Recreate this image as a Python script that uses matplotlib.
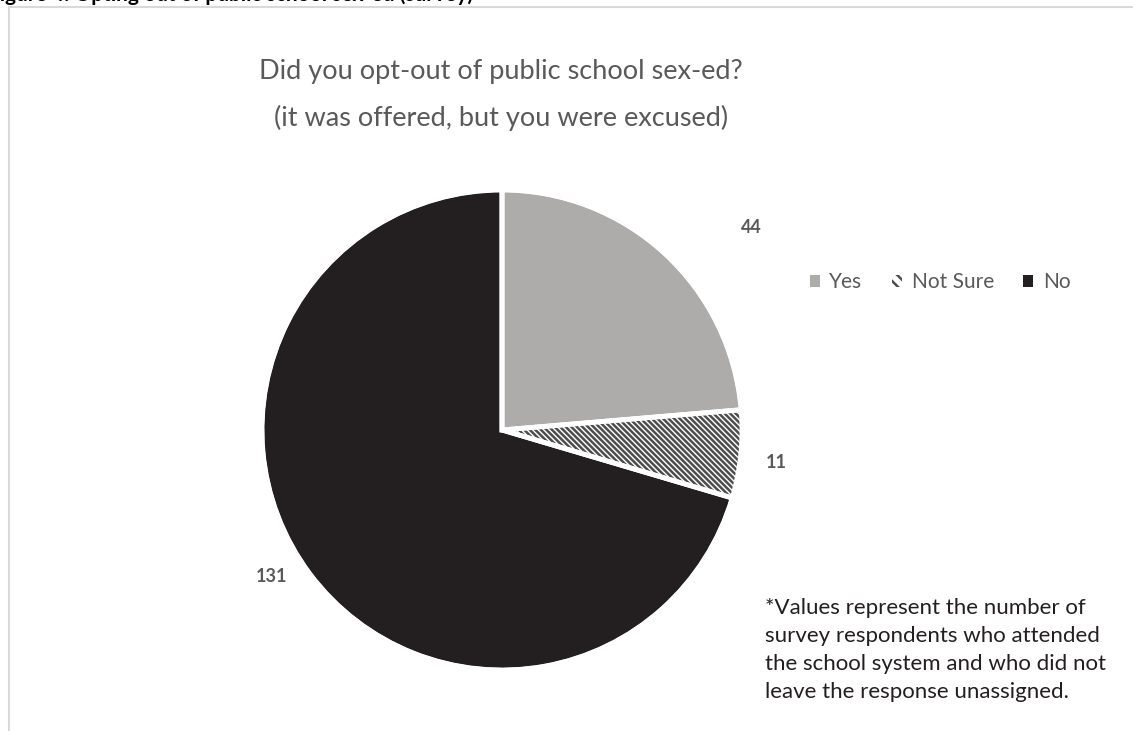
import matplotlib
matplotlib.use("Agg")
import matplotlib.pyplot as plt
from matplotlib.patches import Rectangle, Patch

categories = ["Yes", "Not Sure", "No"]
counts = [44, 11, 131]

title_lines = ["Did you opt-out of public school sex-ed?",
               "(it was offered, but you were excused)"]
note = ("*Values represent the number of\n"
        "survey respondents who attended\n"
        "the school system and who did not\n"
        "leave the response unassigned.")
caption = "Figure 4: Opting out of public school sex-ed (survey)"

W, H = 1133, 731
plt.rcParams["font.family"] = ["Lato", "DejaVu Sans"]
plt.rcParams["hatch.linewidth"] = 1.8
plt.rcParams["hatch.color"] = "#4d4d4d"

fig = plt.figure(figsize=(W / 100, H / 100), dpi=100)
fig.patch.set_facecolor("white")

def fx(px):
    return px / W

def fy(py):
    return 1 - py / H

# chart frame
fig.add_artist(Rectangle((fx(8.5), fy(H + 20)), fx(W + 40), (H + 20 - 6.5) / H,
                         transform=fig.transFigure, fill=False,
                         edgecolor="#d9d9d9", linewidth=1.5))

# caption sitting above the frame, mostly cut by the top edge
fig.text(fx(-12), fy(1), caption, fontsize=15, fontweight="bold",
         color="black", ha="left", va="baseline")

# pie
cx, cy, r = 502, 430, 240
ax = fig.add_axes([fx(cx - r), fy(cy + r), fx(2 * r), 2 * r / H])
colors = ["#aeabab", "white", "#231f20"]
wedges, _ = ax.pie(counts, colors=colors, startangle=90, counterclock=False,
                   radius=1, wedgeprops=dict(edgecolor="white", linewidth=3))
wedges[1].set_hatch("\\\\\\\\\\\\")
wedges[1].set_edgecolor("#4d4d4d")
wedges[1].set_linewidth(0)
# white separators drawn over the hatched slice
ax.pie(counts, colors=["none"] * 3, startangle=90, counterclock=False,
       radius=1, wedgeprops=dict(edgecolor="white", linewidth=3.5))
ax.set_xlim(-1, 1)
ax.set_ylim(-1, 1)
ax.set_aspect("equal")
ax.axis("off")

# value labels
label_pos = [(751, 228), (776, 462), (272, 576)]
for (px, py), v in zip(label_pos, counts):
    fig.text(fx(px), fy(py), str(v), fontsize=13, fontweight="bold",
             color="#595959", ha="center", va="center")

# title
fig.text(fx(501), fy(72), title_lines[0], fontsize=19.5, color="#595959",
         ha="center", va="center")
fig.text(fx(501), fy(118), title_lines[1], fontsize=19.5, color="#595959",
         ha="center", va="center")

# legend
handles = [Patch(facecolor=colors[0], edgecolor="none"),
           Patch(facecolor="white", edgecolor="#4d4d4d", hatch="\\\\\\", linewidth=0),
           Patch(facecolor=colors[2], edgecolor="none")]
leg = fig.legend(handles, categories, loc="center", bbox_to_anchor=(fx(940), fy(282)),
                 ncol=3, frameon=False, fontsize=15, handlelength=0.5,
                 handleheight=0.5, handletextpad=0.45, columnspacing=1.4)
for t in leg.get_texts():
    t.set_color("#595959")

# footnote
fig.text(fx(765), fy(598), note, fontsize=16, color="#231f20",
         ha="left", va="top", linespacing=1.5)

fig.savefig("out.png", dpi=100, facecolor="white")
